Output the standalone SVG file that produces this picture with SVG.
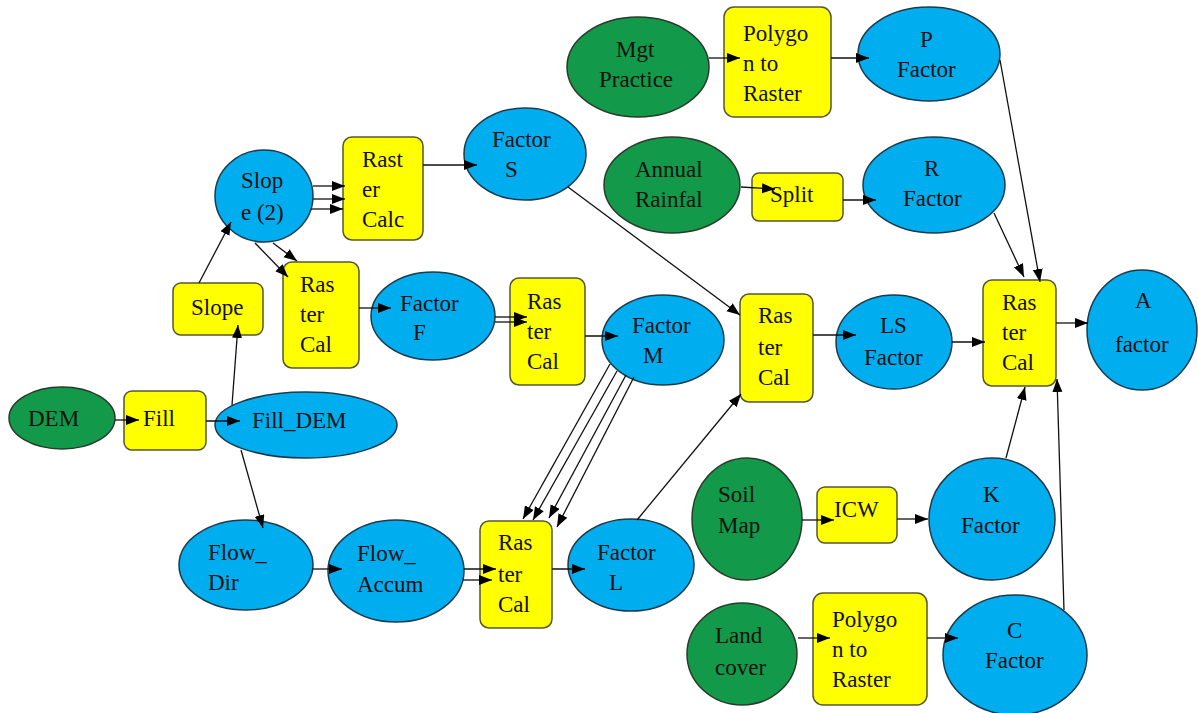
<svg xmlns="http://www.w3.org/2000/svg" width="1198" height="713" viewBox="0 0 1198 713">
<style>
.g{fill:#12994a;stroke:#2a3a2a;stroke-width:1.5}
.b{fill:#00aeef;stroke:#1d3a4a;stroke-width:1.5}
.y{fill:#ffff00;stroke:#555533;stroke-width:1.5}
text{font-family:"Liberation Serif","Times New Roman",serif;font-size:23px;fill:#111}
.c line{stroke:#111;stroke-width:1.3;marker-end:url(#ah)}
</style>
<defs>
<marker id="ah" markerUnits="userSpaceOnUse" markerWidth="14" markerHeight="12" refX="13" refY="5" orient="auto">
<path d="M0,0 L13,5 L0,10 Z" fill="#000"/>
</marker>
</defs>
<rect width="1198" height="713" fill="#fff"/>

<g id="dem"><ellipse class="g" cx="62" cy="418" rx="53" ry="31"/><text x="28" y="426">DEM</text></g>
<g id="fill"><rect class="y" x="124" y="391" width="82" height="59" rx="8"/><text x="143" y="426">Fill</text></g>
<g id="filldem"><ellipse class="b" cx="306" cy="425" rx="91" ry="33"/><text x="252" y="428">Fill_DEM</text></g>
<g id="slope"><rect class="y" x="173" y="283" width="90" height="52" rx="8"/><text x="191" y="315">Slope</text></g>
<g id="slope2"><ellipse class="b" cx="264" cy="196" rx="49" ry="46"/><text x="241" y="188">Slop</text><text x="241" y="220">e (2)</text></g>
<g id="rastercalc"><rect class="y" x="343" y="137" width="80" height="103" rx="9"/><text x="362" y="167">Rast</text><text x="362" y="197">er</text><text x="362" y="227">Calc</text></g>
<g id="rastercal2"><rect class="y" x="283" y="262" width="76" height="106" rx="9"/><text x="300" y="292">Ras</text><text x="300" y="322">ter</text><text x="300" y="352">Cal</text></g>
<g id="factors"><ellipse class="b" cx="525" cy="154" rx="61" ry="46"/><text x="492" y="147">Factor</text><text x="505" y="177">S</text></g>
<g id="factorf"><ellipse class="b" cx="433" cy="316" rx="62" ry="44"/><text x="400" y="311">Factor</text><text x="413" y="340">F</text></g>
<g id="rastercal3"><rect class="y" x="510" y="278" width="75" height="107" rx="9"/><text x="527" y="309">Ras</text><text x="527" y="339">ter</text><text x="527" y="369">Cal</text></g>
<g id="factorm"><ellipse class="b" cx="663" cy="340" rx="61" ry="45"/><text x="632" y="333">Factor</text><text x="643" y="363">M</text></g>
<g id="flowdir"><ellipse class="b" cx="246" cy="565" rx="67" ry="45"/><text x="208" y="560">Flow_</text><text x="208" y="590">Dir</text></g>
<g id="flowaccum"><ellipse class="b" cx="396" cy="571" rx="68" ry="51"/><text x="357" y="561">Flow_</text><text x="357" y="592">Accum</text></g>
<g id="rastercal4"><rect class="y" x="480" y="521" width="72" height="107" rx="9"/><text x="498" y="550">Ras</text><text x="498" y="582">ter</text><text x="498" y="612">Cal</text></g>
<g id="factorl"><ellipse class="b" cx="631" cy="565" rx="63" ry="46"/><text x="597" y="560">Factor</text><text x="609" y="590">L</text></g>
<g id="rastercal5"><rect class="y" x="740" y="294" width="73" height="108" rx="9"/><text x="758" y="323">Ras</text><text x="758" y="355">ter</text><text x="758" y="385">Cal</text></g>
<g id="lsfactor"><ellipse class="b" cx="894" cy="342" rx="58" ry="47"/><text x="880" y="333">LS</text><text x="864" y="365">Factor</text></g>
<g id="rastercal6"><rect class="y" x="983" y="280" width="73" height="106" rx="9"/><text x="1002" y="310">Ras</text><text x="1002" y="340">ter</text><text x="1002" y="370">Cal</text></g>
<g id="afactor"><ellipse class="b" cx="1142" cy="330" rx="55" ry="60"/><text x="1135" y="308">A</text><text x="1115" y="352">factor</text></g>
<g id="mgt"><ellipse class="g" cx="638" cy="67" rx="71" ry="50"/><text x="616" y="57">Mgt</text><text x="599" y="87">Practice</text></g>
<g id="poly1"><rect class="y" x="724" y="7" width="107" height="110" rx="10"/><text x="743" y="41">Polygo</text><text x="743" y="71">n to</text><text x="743" y="101">Raster</text></g>
<g id="pfactor"><ellipse class="b" cx="929" cy="54" rx="71" ry="47"/><text x="920" y="47">P</text><text x="897" y="77">Factor</text></g>
<g id="rain"><ellipse class="g" cx="672" cy="185" rx="68" ry="48"/><text x="635" y="177">Annual</text><text x="635" y="207">Rainfal</text></g>
<g id="split"><rect class="y" x="752" y="173" width="91" height="48" rx="7"/><text x="770" y="202">Split</text></g>
<g id="rfactor"><ellipse class="b" cx="934" cy="185" rx="71" ry="48"/><text x="924" y="176">R</text><text x="903" y="206">Factor</text></g>
<g id="soil"><ellipse class="g" cx="747" cy="519" rx="55" ry="61"/><text x="718" y="502">Soil</text><text x="718" y="533">Map</text></g>
<g id="icw"><rect class="y" x="817" y="487" width="80" height="56" rx="8"/><text x="834" y="517">ICW</text></g>
<g id="kfactor"><ellipse class="b" cx="992" cy="519" rx="63" ry="61"/><text x="983" y="502">K</text><text x="961" y="533">Factor</text></g>
<g id="land"><ellipse class="g" cx="742" cy="654" rx="55" ry="51"/><text x="715" y="643">Land</text><text x="715" y="675">cover</text></g>
<g id="poly2"><rect class="y" x="813" y="593" width="114" height="112" rx="10"/><text x="832" y="627">Polygo</text><text x="832" y="657">n to</text><text x="832" y="687">Raster</text></g>
<g id="cfactor"><ellipse class="b" cx="1015" cy="655" rx="72" ry="60"/><text x="1007" y="638">C</text><text x="985" y="668">Factor</text></g>

<g class="c" id="connectors">
<line x1="115" y1="420" x2="139" y2="420"/>
<line x1="206" y1="421" x2="240" y2="421"/>
<line x1="232" y1="405" x2="238" y2="325"/>
<line x1="241" y1="450" x2="263" y2="528"/>
<line x1="199" y1="283" x2="231" y2="222"/>
<line x1="313" y1="186" x2="345" y2="186"/>
<line x1="313" y1="199" x2="345" y2="199"/>
<line x1="311" y1="209" x2="343" y2="209"/>
<line x1="255" y1="243" x2="288" y2="277"/>
<line x1="273" y1="243" x2="297" y2="261"/>
<line x1="423" y1="165" x2="477" y2="165"/>
<line x1="359" y1="308" x2="391" y2="308"/>
<line x1="495" y1="317" x2="527" y2="317"/>
<line x1="495" y1="322" x2="527" y2="322"/>
<line x1="585" y1="336" x2="618" y2="336"/>
<line x1="568" y1="187" x2="740" y2="315"/>
<line x1="610" y1="364" x2="523" y2="519"/>
<line x1="617" y1="371" x2="533" y2="520"/>
<line x1="626" y1="375" x2="549" y2="518"/>
<line x1="634" y1="377" x2="557" y2="527"/>
<line x1="312" y1="569" x2="342" y2="569"/>
<line x1="463" y1="569" x2="496" y2="569"/>
<line x1="463" y1="580" x2="492" y2="580"/>
<line x1="552" y1="569" x2="585" y2="569"/>
<line x1="637" y1="520" x2="741" y2="394"/>
<line x1="813" y1="335" x2="856" y2="335"/>
<line x1="952" y1="342" x2="985" y2="342"/>
<line x1="1056" y1="323" x2="1088" y2="323"/>
<line x1="1006" y1="458" x2="1025" y2="387"/>
<line x1="1064" y1="610" x2="1057" y2="379"/>
<line x1="802" y1="520" x2="834" y2="520"/>
<line x1="897" y1="519" x2="928" y2="519"/>
<line x1="798" y1="638" x2="830" y2="638"/>
<line x1="927" y1="638" x2="958" y2="638"/>
<line x1="709" y1="58" x2="740" y2="58"/>
<line x1="831" y1="58" x2="869" y2="58"/>
<line x1="741" y1="187" x2="775" y2="189"/>
<line x1="843" y1="200" x2="876" y2="200"/>
<line x1="1000" y1="60" x2="1040" y2="282"/>
<line x1="994" y1="213" x2="1024" y2="277"/>
</g>
</svg>
